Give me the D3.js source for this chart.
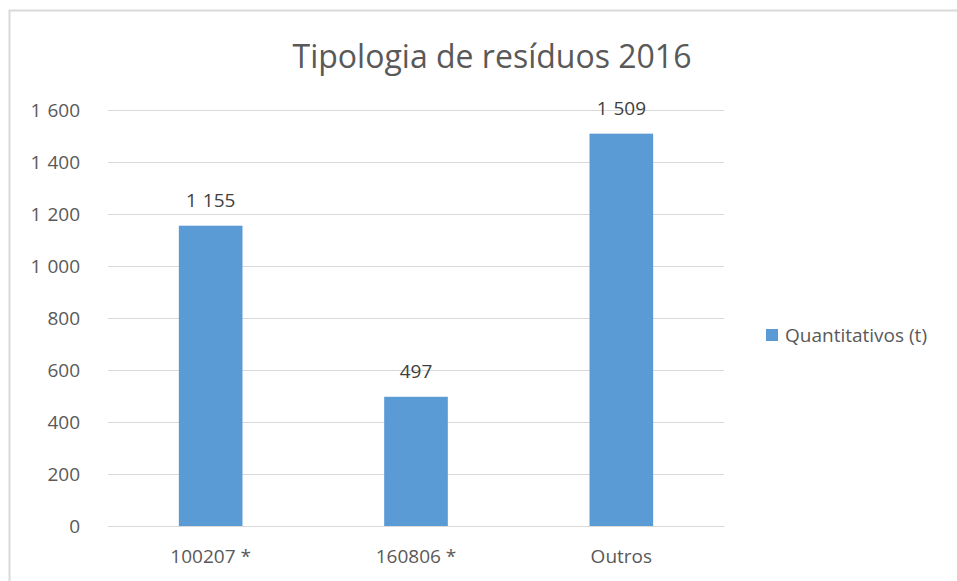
<!DOCTYPE html>
<html>
<head>
<meta charset="utf-8">
<script src="https://cdn.jsdelivr.net/npm/d3@7"></script>
<style>
  body { margin: 0; background: #fff; }
  text { font-family: "Open Sans", sans-serif; }
</style>
</head>
<body>
<div id="chart"></div>
<script>
// chart data
var categories = ["100207 *", "160806 *", "Outros"];
var values = [1155, 497, 1509];
var yTicks = [0, 200, 400, 600, 800, 1000, 1200, 1400, 1600];
var seriesName = "Quantitativos (t)";
var title = "Tipologia de resíduos 2016";

var width = 957, height = 581;
var margin = {top: 110, right: 233, bottom: 55, left: 108};
var innerW = width - margin.left - margin.right,
    innerH = height - margin.top - margin.bottom;

// thousands separated with a space, like the source
var fmt = function (v) { return d3.format(",")(v).replace(/,/g, " "); };

var svg = d3.select("#chart").append("svg")
    .attr("width", width)
    .attr("height", height);

// outer frame
svg.append("rect")
    .attr("x", 9.5).attr("y", 10.5)
    .attr("width", width).attr("height", height)
    .attr("fill", "none")
    .attr("stroke", "#d9d9d9")
    .attr("stroke-width", 2);

svg.append("text")
    .attr("x", 492).attr("y", 68)
    .attr("text-anchor", "middle")
    .attr("font-size", 32)
    .attr("fill", "#595959")
    .text(title);

var g = svg.append("g")
    .attr("transform", "translate(" + margin.left + "," + margin.top + ")");

var x = d3.scaleBand()
    .domain(categories)
    .range([0, innerW])
    .paddingInner(0.69)
    .paddingOuter(0.345);

var y = d3.scaleLinear()
    .domain([0, 1600])
    .range([innerH, 0]);

// gridlines + y labels
var yAxis = g.append("g")
    .call(d3.axisLeft(y).tickValues(yTicks).tickFormat(fmt).tickSize(-innerW).tickPadding(28));
yAxis.select(".domain").remove();
yAxis.selectAll(".tick line").attr("stroke", "#d9d9d9");
yAxis.selectAll(".tick text")
    .attr("fill", "#595959")
    .attr("font-size", 19)
    .attr("word-spacing", 1)
    .attr("font-family", "Open Sans, sans-serif");

// bars
g.selectAll(".bar")
    .data(values)
    .enter().append("rect")
    .attr("class", "bar")
    .attr("x", function (d, i) { return x(categories[i]); })
    .attr("y", function (d) { return y(d); })
    .attr("width", x.bandwidth())
    .attr("height", function (d) { return innerH - y(d); })
    .attr("fill", "#5b9bd5");

// value labels
g.selectAll(".lbl")
    .data(values)
    .enter().append("text")
    .attr("class", "lbl")
    .attr("x", function (d, i) { return x(categories[i]) + x.bandwidth() / 2; })
    .attr("y", function (d) { return y(d) - 19; })
    .attr("text-anchor", "middle")
    .attr("font-size", 19)
    .attr("word-spacing", 1)
    .attr("fill", "#404040")
    .text(fmt);

// x axis
var xAxis = g.append("g")
    .attr("transform", "translate(0," + innerH + ")")
    .call(d3.axisBottom(x).tickSize(0).tickPadding(24));
xAxis.select(".domain").attr("stroke", "#d9d9d9");
xAxis.selectAll(".tick text")
    .attr("fill", "#595959")
    .attr("font-size", 19)
    .attr("font-family", "Open Sans, sans-serif");

// legend
var leg = svg.append("g").attr("transform", "translate(766,329)");
leg.append("rect")
    .attr("width", 12).attr("height", 12)
    .attr("fill", "#5b9bd5");
leg.append("text")
    .attr("x", 19).attr("y", 6)
    .attr("dy", "0.35em")
    .attr("font-size", 19)
    .attr("fill", "#595959")
    .text(seriesName);
</script>
</body>
</html>
